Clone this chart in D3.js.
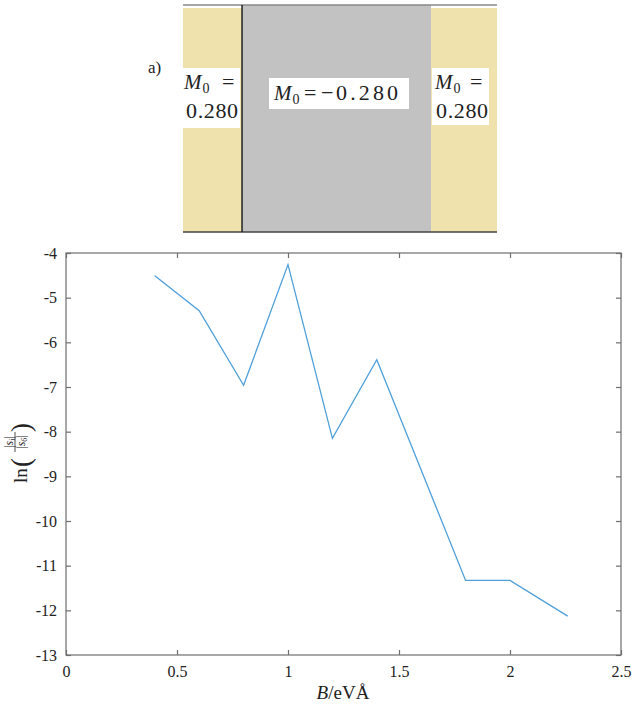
<!DOCTYPE html>
<html>
<head>
<meta charset="utf-8">
<script src="https://cdn.jsdelivr.net/npm/d3@7"></script>
<style>
  body { margin: 0; background: #fff; }
  svg { display: block; }
</style>
</head>
<body>
<svg id="chart"></svg>
<script>
// field B in eV·Å and ln(|s_i|/|s_6|)
const bValues = [0.4, 0.6, 0.8, 1.0, 1.2, 1.4, 1.8, 2.0, 2.26];
const lnRatio = [-4.51, -5.29, -6.96, -4.26, -8.15, -6.39, -11.33, -11.33, -12.13];
const xTicks = [0, 0.5, 1, 1.5, 2, 2.5];
const yTicks = [-4, -5, -6, -7, -8, -9, -10, -11, -12, -13];

// top panel regions (along a 0..1 strip coordinate)
const regionNames = ["left", "middle", "right"];
const regionEdges = [0, 0.188, 0.79, 1];
const regionM0 = [0.28, -0.28, 0.28];

const width = 632;
const height = 706;
const margins = { top: 253, right: 11, bottom: 51, left: 66 };
const serif = "'Liberation Serif'";
const textColor = "#222";

const svg = d3.select("#chart")
  .attr("width", width).attr("height", height)
  .attr("font-family", serif);

//! top panel
const strip = d3.scaleLinear().domain([0, 1]).range([183, 497]);
const stripTop = 5, stripBottom = 232;

svg.append("g")
  .selectAll("rect")
  .data(regionNames)
  .join("rect")
  .attr("x", (d, i) => strip(regionEdges[i]))
  .attr("width", (d, i) => strip(regionEdges[i + 1]) - strip(regionEdges[i]))
  .attr("y", (d) => (d === "middle" ? stripTop : stripTop + 3))
  .attr("height", (d) => (d === "middle" ? stripBottom - stripTop : stripBottom - stripTop - 3))
  .attr("fill", (d, i) => (regionM0[i] < 0 ? "#c2c2c2" : "#efe2ac"));

svg.append("line")
  .attr("x1", strip(0)).attr("x2", strip(1))
  .attr("y1", stripTop).attr("y2", stripTop)
  .attr("stroke", "#888").attr("stroke-width", 1.5);
svg.append("line")
  .attr("x1", strip(0)).attr("x2", strip(1))
  .attr("y1", stripBottom).attr("y2", stripBottom)
  .attr("stroke", "#444").attr("stroke-width", 1.5);
svg.append("line")
  .attr("x1", strip(regionEdges[1])).attr("x2", strip(regionEdges[1]))
  .attr("y1", stripTop).attr("y2", stripBottom)
  .attr("stroke", "#222").attr("stroke-width", 1.5);

svg.append("text")
  .attr("x", 148).attr("y", 73)
  .attr("font-size", 17)
  .attr("fill", textColor)
  .text("a)");

const fmt = d3.format(".3f");

// "M0 =" piece, then the number; xs = [M, =, minus, number]
const drawM0 = (xs, yEq, yNum, value) => {
  const t = svg.append("text")
    .attr("x", xs[0]).attr("y", yEq)
    .attr("font-size", 21)
    .attr("fill", textColor);
  t.append("tspan").attr("font-style", "italic").text("M");
  t.append("tspan").attr("font-size", 14).attr("dy", 4).attr("dx", 1).text("0");
  svg.append("text")
    .attr("x", xs[1]).attr("y", yEq)
    .attr("font-size", 22)
    .attr("fill", textColor)
    .text("=");
  if (value < 0) {
    svg.append("text")
      .attr("x", xs[2]).attr("y", yNum)
      .attr("font-size", 22)
      .attr("fill", textColor)
      .text("\u2212");
  }
  svg.append("text")
    .attr("x", xs[3]).attr("y", yNum)
    .attr("font-size", 22)
    .attr("fill", textColor)
    .attr("textLength", value < 0 ? 62 : 52)
    .text(fmt(Math.abs(value)));
};

// side regions: two-line labels in white boxes
svg.append("rect").attr("x", 183).attr("y", 68).attr("width", 57).attr("height", 60).attr("fill", "#fff");
svg.append("rect").attr("x", 432).attr("y", 68).attr("width", 57).attr("height", 57).attr("fill", "#fff");
drawM0([184, 222, null, 186], 89, 118, regionM0[0]);
drawM0([435, 470, null, 436], 89, 118, regionM0[2]);

// middle region label
svg.append("rect")
  .attr("x", 269).attr("y", 78)
  .attr("width", 140).attr("height", 31)
  .attr("fill", "#fff");
drawM0([274, 304, 321, 336], 100, 100, regionM0[1]);

//! line chart
const x = d3.scaleLinear()
  .domain([0, 2.5])
  .range([margins.left, width - margins.right]);
const y = d3.scaleLinear()
  .domain([-13, -4])
  .range([height - margins.bottom, margins.top]);

const axisColor = "#6e6e6e";
const tickLen = 5;

const xAxis = svg.append("g")
  .attr("transform", `translate(0, ${y(-13)})`)
  .call(d3.axisBottom(x).tickValues(xTicks).tickSize(-tickLen).tickPadding(11)
    .tickFormat((d) => d));
const xTop = svg.append("g")
  .attr("transform", `translate(0, ${y(-4)})`)
  .call(d3.axisTop(x).tickValues(xTicks).tickSize(-tickLen).tickFormat(""));
const yAxis = svg.append("g")
  .attr("transform", `translate(${x(0)}, 0)`)
  .call(d3.axisLeft(y).tickValues(yTicks).tickSize(-tickLen).tickPadding(9)
    .tickFormat((d) => d));
const yRight = svg.append("g")
  .attr("transform", `translate(${x(2.5)}, 0)`)
  .call(d3.axisRight(y).tickValues(yTicks).tickSize(-tickLen).tickFormat(""));

[xAxis, xTop, yAxis, yRight].forEach((g) => {
  g.attr("font-family", serif);
  g.select(".domain").remove();
  g.selectAll(".tick line").attr("stroke", axisColor).attr("stroke-width", 1.2);
  g.selectAll("text")
    .attr("fill", textColor)
    .attr("font-family", serif)
    .attr("font-size", 16);
});

// frame
svg.append("rect")
  .attr("x", x(0)).attr("y", y(-4))
  .attr("width", x(2.5) - x(0)).attr("height", y(-13) - y(-4))
  .attr("fill", "none")
  .attr("stroke", axisColor)
  .attr("stroke-width", 1.2);

const line = d3.line()
  .x((d, i) => x(bValues[i]))
  .y((d) => y(d));

svg.append("path")
  .datum(lnRatio)
  .attr("d", line)
  .attr("fill", "none")
  .attr("stroke", "#4f9fd9")
  .attr("stroke-width", 1.3);

// x label: B/eVÅ
const xl = svg.append("text")
  .attr("x", 343).attr("y", 699)
  .attr("text-anchor", "middle")
  .attr("font-size", 19)
  .attr("fill", textColor);
xl.append("tspan").attr("font-style", "italic").text("B");
xl.append("tspan").text("/eV\u00c5");

// y label: ln(|s_i| / |s_6|)
const yl = svg.append("g")
  .attr("transform", "translate(27, 455) rotate(-90)")
  .attr("fill", textColor);
yl.append("text").attr("x", -28).attr("y", 0).attr("font-size", 19).text("ln");
yl.append("text").attr("x", -12).attr("y", 3).attr("font-size", 27).text("(");
yl.append("text").attr("x", 23).attr("y", 3).attr("font-size", 27).text(")");
const frac = [["s", "i", -14], ["s", "6", -2]];
frac.forEach(([b, sub, dy]) => {
  const t = yl.append("text")
    .attr("x", 13).attr("y", dy)
    .attr("text-anchor", "middle")
    .attr("font-size", 12);
  t.append("tspan").text("|");
  t.append("tspan").attr("font-style", "italic").text(b);
  t.append("tspan").attr("font-size", 8).attr("dy", 2).attr("font-style", "italic").text(sub);
  t.append("tspan").attr("dy", -2).text("|");
});
yl.append("line")
  .attr("x1", 3).attr("x2", 23)
  .attr("y1", -12).attr("y2", -12)
  .attr("stroke", textColor).attr("stroke-width", 0.8);
</script>
</body>
</html>
